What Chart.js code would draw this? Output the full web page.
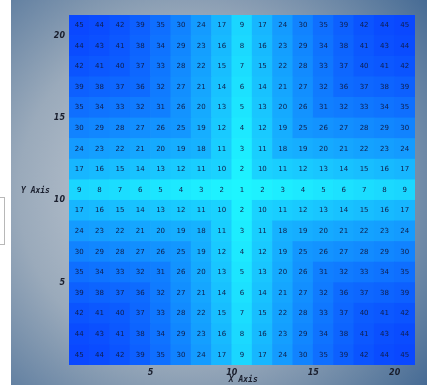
<!DOCTYPE html>
<html>
<head>
<meta charset="utf-8">
<script src="https://cdn.jsdelivr.net/npm/chart.js@4/dist/chart.umd.min.js"></script>
<style>
  html, body { margin: 0; padding: 0; background: #fff; }
  #wrap { position: absolute; left: 11px; top: 0; width: 416px; height: 385px; }
  #stub { position: absolute; left: -1px; top: 197px; width: 4px; height: 46px; border: 1px solid #b8b8b8; background: #fff; }
</style>
</head>
<body>
<div id="stub"></div>
<div id="wrap"><canvas id="heat"></canvas></div>
<script>
// grid values, top row first (17 x 17)
const heatRows = [
  [45, 44, 42, 39, 35, 30, 24, 17, 9, 17, 24, 30, 35, 39, 42, 44, 45],
  [44, 43, 41, 38, 34, 29, 23, 16, 8, 16, 23, 29, 34, 38, 41, 43, 44],
  [42, 41, 40, 37, 33, 28, 22, 15, 7, 15, 22, 28, 33, 37, 40, 41, 42],
  [39, 38, 37, 36, 32, 27, 21, 14, 6, 14, 21, 27, 32, 36, 37, 38, 39],
  [35, 34, 33, 32, 31, 26, 20, 13, 5, 13, 20, 26, 31, 32, 33, 34, 35],
  [30, 29, 28, 27, 26, 25, 19, 12, 4, 12, 19, 25, 26, 27, 28, 29, 30],
  [24, 23, 22, 21, 20, 19, 18, 11, 3, 11, 18, 19, 20, 21, 22, 23, 24],
  [17, 16, 15, 14, 13, 12, 11, 10, 2, 10, 11, 12, 13, 14, 15, 16, 17],
  [9, 8, 7, 6, 5, 4, 3, 2, 1, 2, 3, 4, 5, 6, 7, 8, 9],
  [17, 16, 15, 14, 13, 12, 11, 10, 2, 10, 11, 12, 13, 14, 15, 16, 17],
  [24, 23, 22, 21, 20, 19, 18, 11, 3, 11, 18, 19, 20, 21, 22, 23, 24],
  [30, 29, 28, 27, 26, 25, 19, 12, 4, 12, 19, 25, 26, 27, 28, 29, 30],
  [35, 34, 33, 32, 31, 26, 20, 13, 5, 13, 20, 26, 31, 32, 33, 34, 35],
  [39, 38, 37, 36, 32, 27, 21, 14, 6, 14, 21, 27, 32, 36, 37, 38, 39],
  [42, 41, 40, 37, 33, 28, 22, 15, 7, 15, 22, 28, 33, 37, 40, 41, 42],
  [44, 43, 41, 38, 34, 29, 23, 16, 8, 16, 23, 29, 34, 38, 41, 43, 44],
  [45, 44, 42, 39, 35, 30, 24, 17, 9, 17, 24, 30, 35, 39, 42, 44, 45]
];
const cellStep = 1.25;          // data units per cell
const xTickValues = [5, 10, 15, 20];
const yTickValues = [5, 10, 15, 20];
const xTitle = "X Axis";
const yTitle = "Y Axis";

const vMin = 1, vMax = 45;
const nCols = heatRows[0].length;
const nRows = heatRows.length;
const axisMax = nCols * cellStep;

// cyan -> blue
function cellColor(v) {
  const t = (v - vMin) / (vMax - vMin);
  const r = Math.round(30 + (10 - 30) * t);
  const g = Math.round(245 + (72 - 245) * t);
  return "rgb(" + r + "," + g + ",255)";
}

// one floating-bar dataset per row, bottom row = index 0
const datasets = [];
for (let r = 0; r < nRows; r++) {
  const vals = heatRows[nRows - 1 - r];
  datasets.push({
    label: "row" + r,
    data: vals.map((v, c) => ({ x: (c + 0.5) * cellStep, y: [r * cellStep, (r + 1) * cellStep], v })),
    backgroundColor: vals.map(cellColor),
    borderWidth: 0,
    barPercentage: 1,
    categoryPercentage: 1,
    grouped: false,
  });
}

const tickFont = { family: "'DejaVu Sans', sans-serif", size: 8, weight: "bold", style: "italic" };

const bgPlugin = {
  id: "bg",
  beforeDraw(chart) {
    const { ctx, width, height } = chart;
    const g = ctx.createRadialGradient(width * 0.42, height * 0.5, 10, width * 0.42, height * 0.5, width * 0.78);
    g.addColorStop(0, "#c9d0d8");
    g.addColorStop(0.5, "#9aaabb");
    g.addColorStop(1, "#3d6490");
    ctx.save();
    ctx.fillStyle = g;
    ctx.fillRect(0, 0, width, height);
    ctx.restore();
  },
};

const labelPlugin = {
  id: "cellLabels",
  afterDatasetsDraw(chart) {
    const { ctx } = chart;
    ctx.save();
    ctx.font = "7px 'DejaVu Sans', sans-serif";
    ctx.fillStyle = "#0f1d48";
    ctx.textAlign = "center";
    ctx.textBaseline = "middle";
    chart.data.datasets.forEach((ds, i) => {
      chart.getDatasetMeta(i).data.forEach((bar, j) => {
        const p = bar.getProps(["x", "y", "base"], true);
        ctx.fillText(String(ds.data[j].v), p.x, (p.y + p.base) / 2);
      });
    });
    // axis titles
    const xs = chart.scales.x, ys = chart.scales.y;
    ctx.font = "bold italic 8px 'DejaVu Sans Mono', monospace";
    ctx.fillStyle = "#1a1f2e";
    ctx.textAlign = "left";
    ctx.fillText(xTitle, xs.getPixelForValue(10) - 3, 380);
    ctx.fillText(yTitle, 10, ys.getPixelForValue(10) - 9);
    ctx.restore();
  },
};

new Chart(document.getElementById("heat"), {
  type: "bar",
  data: { datasets },
  options: {
    responsive: true,
    maintainAspectRatio: false,
    animation: false,
    layout: { padding: { top: 15, right: 12, left: 0, bottom: 0 } },
    plugins: { legend: { display: false }, tooltip: { enabled: false } },
    scales: {
      x: {
        type: "linear",
        offset: false,
        min: 0,
        max: axisMax,
        afterBuildTicks: (s) => { s.ticks = xTickValues.map((v) => ({ value: v })); },
        afterFit: (s) => { s.height = 20; },
        grid: { display: false, drawTicks: false, offset: false },
        border: { display: false },
        ticks: { color: "#1a1f2e", font: tickFont, padding: 3, maxRotation: 0 },
      },
      y: {
        type: "linear",
        min: 0,
        max: axisMax,
        afterBuildTicks: (s) => { s.ticks = yTickValues.map((v) => ({ value: v })); },
        afterFit: (s) => { s.width = 58; },
        grid: { display: false, drawTicks: false },
        border: { display: false },
        ticks: { color: "#1a1f2e", font: tickFont, padding: 4 },
      },
    },
  },
  plugins: [bgPlugin, labelPlugin],
});
</script>
</body>
</html>
